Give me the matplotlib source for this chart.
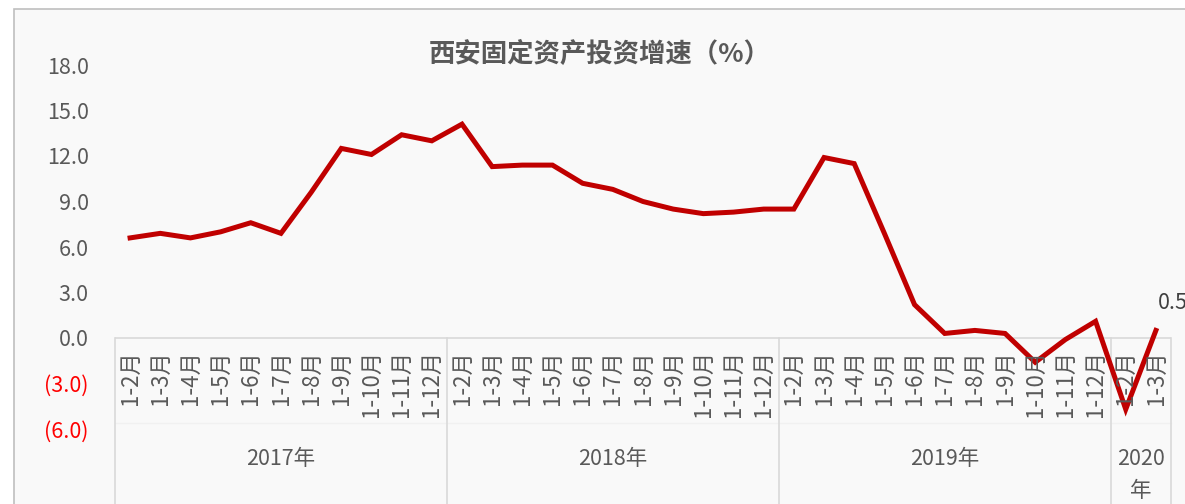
import matplotlib
matplotlib.use('Agg')
import matplotlib.pyplot as plt
from matplotlib.patches import Rectangle
from matplotlib.transforms import blended_transform_factory

plt.rcParams['font.family'] = ['Noto Sans CJK SC', 'DejaVu Sans']

# data
years = ['2017年', '2018年', '2019年', '2020\n年']
months_2017 = ['1-2月', '1-3月', '1-4月', '1-5月', '1-6月', '1-7月', '1-8月',
               '1-9月', '1-10月', '1-11月', '1-12月']
months_2018 = list(months_2017)
months_2019 = list(months_2017)
months_2020 = ['1-2月', '1-3月']
growth_2017 = [6.6, 6.9, 6.6, 7.0, 7.6, 6.9, 9.6, 12.5, 12.1, 13.4, 13.0]
growth_2018 = [14.1, 11.3, 11.4, 11.4, 10.2, 9.8, 9.0, 8.5, 8.2, 8.3, 8.5]
growth_2019 = [8.5, 11.9, 11.5, 6.9, 2.2, 0.3, 0.5, 0.3, -1.6, -0.1, 1.1]
growth_2020 = [-4.7, 0.5]
y_ticks = [-6, -3, 0, 3, 6, 9, 12, 15, 18]

month_groups = [months_2017, months_2018, months_2019, months_2020]
value_groups = [growth_2017, growth_2018, growth_2019, growth_2020]
labels = [m for g in month_groups for m in g]
values = [v for g in value_groups for v in g]
xs = list(range(len(values)))

W, H = 1185, 504
fig = plt.figure(figsize=(W / 100, H / 100), dpi=100, facecolor='white')

# chart frame
fig.patches.append(Rectangle((14 / W, -0.1), 1.2, (H - 9) / H + 0.1,
                             transform=fig.transFigure, facecolor='#f9f9f9',
                             edgecolor='#bfbfbf', linewidth=1.2, zorder=-10))

left, right, top, bottom = 115, 1171, 65, 429
ax = fig.add_axes([left / W, (H - bottom) / H, (right - left) / W, (bottom - top) / H])
ax.set_facecolor('none')
ax.plot(xs, values, color='#c00000', linewidth=3.6, solid_joinstyle='miter', zorder=3)

ax.set_xlim(-0.5, len(values) - 0.5)
ax.set_ylim(-6, 18)
ax.set_xticks([])
ax.set_yticks(y_ticks)
ax.set_yticklabels(['({:.1f})'.format(-t) if t < 0 else '{:.1f}'.format(t) for t in y_ticks])
ax.tick_params(axis='y', length=0, pad=19, labelsize=15.5, labelcolor='#595959')
for t, lab in zip(y_ticks, ax.get_yticklabels()):
    if t < 0:
        lab.set_color('#ff0000')
for s in ax.spines.values():
    s.set_visible(False)

# category axis
ax.axhline(0, color='#d9d9d9', linewidth=1.2, zorder=1)
trans = blended_transform_factory(ax.transData, fig.transFigure)
ax.plot([-0.5, len(values) - 0.5], [(H - 423) / H] * 2, transform=trans,
        color='#f1f1f1', linewidth=1, clip_on=False)
bounds = [-0.5]
for g in month_groups:
    bounds.append(bounds[-1] + len(g))
for b in bounds:
    ax.plot([b, b], [(H - 338) / H, -0.05], transform=trans, color='#d9d9d9',
            linewidth=1.2, clip_on=False)
for x, lab in zip(xs, labels):
    ax.text(x, (H - 350) / H, lab, transform=trans, rotation=90, ha='center',
            va='top', fontsize=16, color='#595959')
for i, yr in enumerate(years):
    cx = (bounds[i] + bounds[i + 1]) / 2
    ax.text(cx, (H - 448) / H, yr, transform=trans, ha='center', va='top',
            fontsize=15.5, color='#595959', linespacing=1.6)

# last point label
ax.annotate('{:.1f}'.format(values[-1]), (xs[-1], values[-1]), xytext=(2, 27),
            textcoords='offset pixels', ha='left', va='center', fontsize=15.5,
            color='#404040', annotation_clip=False)

fig.text(600 / W, (H - 54) / H, '西安固定资产投资增速（%）', ha='center', va='center',
         fontsize=19, fontweight='bold', color='#595959')

fig.savefig('out.png', dpi=100, facecolor='white')
